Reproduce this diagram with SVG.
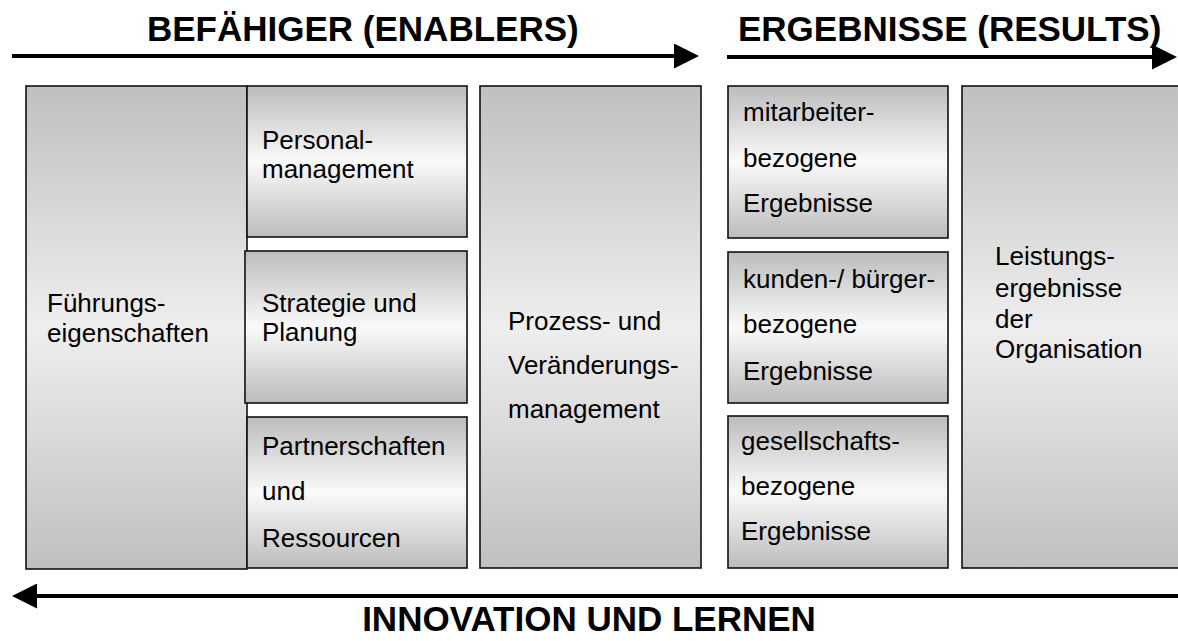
<svg xmlns="http://www.w3.org/2000/svg" width="1178" height="641" viewBox="0 0 1178 641">
  <style>
    .title { font-family: "Liberation Sans", Arial, sans-serif; font-weight: bold; font-size: 35px; fill: #000; }
    .lbl { font-family: "Liberation Sans", Arial, sans-serif; font-size: 26px; fill: #000; }
    .big { fill: url(#gBig); stroke: #111; stroke-width: 1.6; }
    .small { fill: url(#gSmall); stroke: #111; stroke-width: 1.6; }
    .arrow { stroke: #000; stroke-width: 4; fill: none; }
  </style>
  <defs>
    <linearGradient id="gBig" x1="0" y1="0" x2="0" y2="1">
      <stop offset="0" stop-color="#c0c0c0"/>
      <stop offset="0.5" stop-color="#eeeeee"/>
      <stop offset="1" stop-color="#c0c0c0"/>
    </linearGradient>
    <linearGradient id="gSmall" x1="0" y1="0" x2="0" y2="1">
      <stop offset="0" stop-color="#bcbcbc"/>
      <stop offset="0.5" stop-color="#fafafa"/>
      <stop offset="1" stop-color="#bcbcbc"/>
    </linearGradient>
    <marker id="head" markerUnits="userSpaceOnUse" markerWidth="25" markerHeight="25" refX="2" refY="12.5" orient="auto-start-reverse">
      <path d="M0,0 L25,12.5 L0,25 Z" fill="#000"/>
    </marker>
  </defs>

  <g id="connectors">
    <line class="arrow" x1="12" y1="56" x2="676" y2="56" marker-end="url(#head)"/>
    <line class="arrow" x1="727" y1="57" x2="1154" y2="57" marker-end="url(#head)"/>
    <line class="arrow" x1="35" y1="596" x2="1178" y2="596" marker-start="url(#head)"/>
  </g>

  <g id="title-enablers"><text class="title" x="147" y="41">BEFÄHIGER (ENABLERS)</text></g>
  <g id="title-results"><text class="title" x="738" y="41">ERGEBNISSE (RESULTS)</text></g>
  <g id="title-innovation"><text class="title" x="589" y="631" text-anchor="middle">INNOVATION UND LERNEN</text></g>

  <g id="fuehrung">
    <rect class="big" x="26" y="86" width="221" height="483"/>
    <text class="lbl" x="47" y="312">Führungs-</text>
    <text class="lbl" x="47" y="342">eigenschaften</text>
  </g>

  <g id="personal">
    <rect class="small" x="247" y="86" width="220" height="151"/>
    <text class="lbl" x="262" y="149">Personal-</text>
    <text class="lbl" x="262" y="178">management</text>
  </g>

  <g id="strategie">
    <rect class="small" x="245" y="251" width="222" height="152"/>
    <text class="lbl" x="262" y="312">Strategie und</text>
    <text class="lbl" x="262" y="341">Planung</text>
  </g>

  <g id="partner">
    <rect class="small" x="247" y="417" width="220" height="151"/>
    <text class="lbl" x="262" y="455">Partnerschaften</text>
    <text class="lbl" x="262" y="500">und</text>
    <text class="lbl" x="262" y="547">Ressourcen</text>
  </g>

  <g id="prozess">
    <rect class="big" x="480" y="86" width="221" height="482"/>
    <text class="lbl" x="508" y="330">Prozess- und</text>
    <text class="lbl" x="508" y="374">Veränderungs-</text>
    <text class="lbl" x="508" y="418">management</text>
  </g>

  <g id="mitarbeiter">
    <rect class="small" x="728" y="86" width="220" height="152"/>
    <text class="lbl" x="743" y="121">mitarbeiter-</text>
    <text class="lbl" x="743" y="167">bezogene</text>
    <text class="lbl" x="743" y="212">Ergebnisse</text>
  </g>

  <g id="kunden">
    <rect class="small" x="728" y="252" width="220" height="151"/>
    <text class="lbl" x="743" y="288">kunden-/ bürger-</text>
    <text class="lbl" x="743" y="333">bezogene</text>
    <text class="lbl" x="743" y="380">Ergebnisse</text>
  </g>

  <g id="gesellschaft">
    <rect class="small" x="728" y="416" width="220" height="152"/>
    <text class="lbl" x="741" y="450">gesellschafts-</text>
    <text class="lbl" x="741" y="495">bezogene</text>
    <text class="lbl" x="741" y="540">Ergebnisse</text>
  </g>

  <g id="leistung">
    <rect class="big" x="962" y="86" width="230" height="482"/>
    <text class="lbl" x="995" y="265">Leistungs-</text>
    <text class="lbl" x="995" y="297">ergebnisse</text>
    <text class="lbl" x="995" y="328">der</text>
    <text class="lbl" x="995" y="358">Organisation</text>
  </g>
</svg>
